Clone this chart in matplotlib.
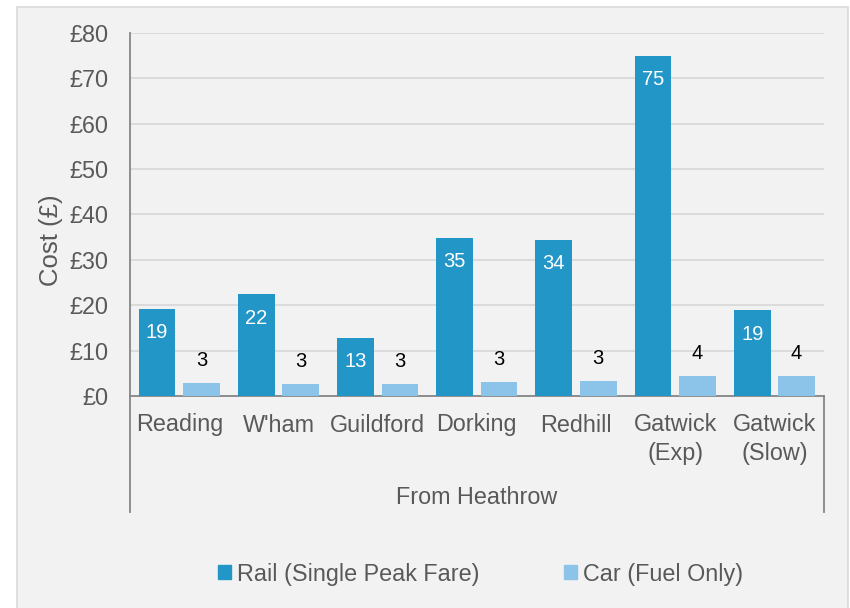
import matplotlib.pyplot as plt
from matplotlib.patches import Rectangle

plt.rcParams['font.family'] = ['Liberation Sans', 'DejaVu Sans']

# data
stations = ['Reading', "W'ham", 'Guildford', 'Dorking', 'Redhill',
            'Gatwick\n(Exp)', 'Gatwick\n(Slow)']
rail_cost = [19.2, 22.4, 12.8, 34.8, 34.4, 74.9, 18.9]
car_cost = [2.8, 2.6, 2.6, 3.0, 3.3, 4.4, 4.4]
y_ticks = [0, 10, 20, 30, 40, 50, 60, 70, 80]

rail_color = '#2396c8'
car_color = '#8cc3e8'
text_grey = '#595959'

fig = plt.figure(figsize=(8.5, 6.08), dpi=100)
fig.patch.set_facecolor('white')
# chart area box (behind the axes)
fig.patches.append(Rectangle((17 / 850, -0.01), (848 - 17) / 850, 1 - 7 / 608 + 0.01,
                             transform=fig.transFigure, facecolor='#f2f2f2',
                             edgecolor='#d9d9d9', linewidth=1.2, zorder=-5))

ax = fig.add_axes([129.7 / 850, 1 - 396 / 608, (824 - 129.7) / 850, (396 - 32.7) / 608])
ax.set_facecolor('none')

x = range(len(stations))
w = 0.37
off = 0.224
rail_bars = ax.bar([i - off for i in x], rail_cost, width=w, color=rail_color, zorder=3)
car_bars = ax.bar([i + off for i in x], car_cost, width=w, color=car_color, zorder=3)

for b, v in zip(rail_bars, rail_cost):
    ax.annotate('%d' % round(v), (b.get_x() + b.get_width() / 2, v), xytext=(0, -24),
                textcoords='offset pixels', ha='center', va='center',
                color='white', fontsize=14.5)
for b, v in zip(car_bars, car_cost):
    ax.annotate('%d' % round(v), (b.get_x() + b.get_width() / 2, v), xytext=(0, 23),
                textcoords='offset pixels', ha='center', va='center',
                color='black', fontsize=14.5)

ax.set_xlim(-0.5, len(stations) - 0.5)
ax.set_ylim(0, 80)
ax.set_yticks(y_ticks)
ax.set_yticklabels(['£%d' % t for t in y_ticks])
ax.tick_params(axis='y', length=0, pad=15, labelsize=16.8, labelcolor=text_grey)
ax.set_xticks([])
ax.yaxis.grid(True, color='#d9d9d9', linewidth=1.3, zorder=0)
ax.set_axisbelow(True)
for s in ['top', 'right']:
    ax.spines[s].set_visible(False)
for s in ['left', 'bottom']:
    ax.spines[s].set_color('#868686')
    ax.spines[s].set_linewidth(1.3)

# category labels and group label
xt = ax.get_xaxis_transform()
for i, name in enumerate(stations):
    yc = -(439 - 396) / 363.3 if '\n' in name else -(425 - 396) / 363.3
    ax.text(i, yc, name, transform=xt, ha='center', va='center',
            fontsize=16.8, color=text_grey, linespacing=1.3)
ax.text(3, -(497 - 396) / 363.3, 'From Heathrow', transform=xt, ha='center', va='center',
        fontsize=16.8, color=text_grey)
for xv in [-0.5, len(stations) - 0.5]:
    ax.plot([xv, xv], [0, -0.319], transform=xt, color='#868686',
            linewidth=1.3, clip_on=False)

fig.text(51 / 850, 1 - 240 / 608, 'Cost (£)', rotation=90, ha='center', va='center',
         fontsize=18.5, color=text_grey)

handles = [Rectangle((0, 0), 1, 1, color=rail_color), Rectangle((0, 0), 1, 1, color=car_color)]
fig.legend(handles, ['Rail (Single Peak Fare)', 'Car (Fuel Only)'], loc='center',
           bbox_to_anchor=(480.5 / 850, 1 - 574 / 608), ncol=2, frameon=False,
           handlelength=0.55, handleheight=0.55, handletextpad=0.25, columnspacing=3.65,
           fontsize=16.8, labelcolor=text_grey)

fig.savefig('out.png', dpi=100)
